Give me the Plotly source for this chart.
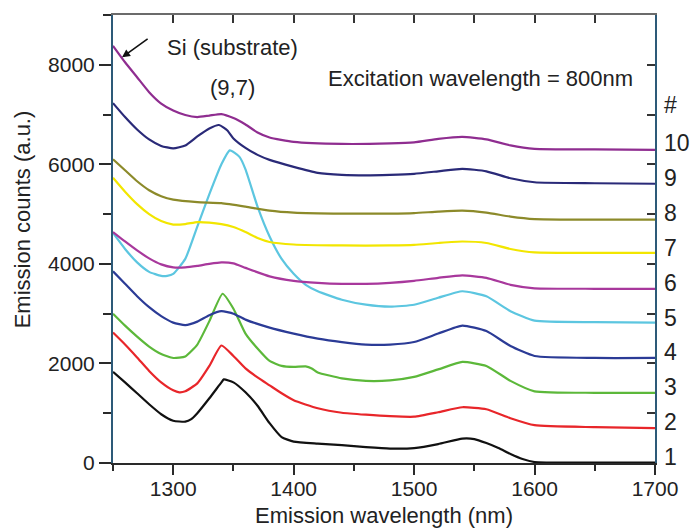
import plotly.graph_objects as go

# Photoluminescence spectra of samples #1-#10, vertically offset by 700 counts each
wl_1 = [1250, 1260, 1270, 1280, 1290, 1300, 1310, 1315, 1320, 1330, 1340, 1342, 1350, 1360, 1370, 1380, 1390, 1400, 1420, 1440, 1460, 1480, 1500, 1520, 1540, 1550, 1560, 1570, 1580, 1590, 1600, 1650, 1700]
counts_1 = [1830, 1620, 1400, 1180, 980, 850, 830, 880, 1000, 1300, 1620, 1680, 1620, 1420, 1150, 800, 520, 430, 390, 360, 320, 290, 300, 380, 490, 480, 400, 300, 180, 80, 20, 10, 10]

wl_2 = [1250, 1260, 1270, 1280, 1290, 1300, 1305, 1310, 1320, 1330, 1340, 1350, 1360, 1370, 1380, 1390, 1400, 1420, 1440, 1460, 1480, 1500, 1520, 1540, 1560, 1580, 1600, 1650, 1700]
counts_2 = [2620, 2380, 2120, 1850, 1620, 1460, 1420, 1440, 1600, 1950, 2360, 2150, 1900, 1720, 1560, 1400, 1260, 1100, 1010, 970, 940, 930, 1020, 1120, 1080, 900, 760, 720, 700]

wl_3 = [1250, 1260, 1270, 1280, 1290, 1300, 1310, 1320, 1330, 1341, 1350, 1360, 1370, 1380, 1390, 1400, 1410, 1415, 1420, 1440, 1460, 1480, 1500, 1520, 1540, 1560, 1580, 1600, 1650, 1700]
counts_3 = [3000, 2760, 2540, 2340, 2190, 2110, 2140, 2380, 2850, 3400, 3100, 2600, 2300, 2050, 1950, 1930, 1940, 1900, 1820, 1700, 1650, 1660, 1730, 1880, 2030, 1950, 1650, 1440, 1410, 1410]

wl_4 = [1250, 1260, 1270, 1280, 1290, 1300, 1310, 1320, 1330, 1340, 1350, 1360, 1380, 1400, 1420, 1440, 1460, 1480, 1500, 1520, 1540, 1560, 1580, 1600, 1650, 1700]
counts_4 = [3850, 3600, 3350, 3130, 2950, 2820, 2770, 2840, 2970, 3050, 3000, 2880, 2720, 2600, 2500, 2430, 2380, 2380, 2430, 2600, 2760, 2650, 2350, 2150, 2110, 2110]

wl_5 = [1250, 1260, 1270, 1280, 1290, 1295, 1300, 1310, 1320, 1330, 1340, 1347, 1355, 1360, 1370, 1380, 1390, 1400, 1410, 1420, 1440, 1460, 1480, 1500, 1520, 1540, 1560, 1580, 1600, 1650, 1700]
counts_5 = [4620, 4300, 4030, 3840, 3760, 3760, 3800, 4100, 4750, 5400, 6000, 6280, 6150, 5900, 5150, 4550, 4100, 3800, 3580, 3450, 3280, 3180, 3140, 3180, 3320, 3450, 3350, 3050, 2860, 2830, 2820]

wl_6 = [1250, 1260, 1270, 1280, 1290, 1300, 1310, 1320, 1330, 1340, 1350, 1360, 1380, 1400, 1420, 1440, 1460, 1480, 1500, 1520, 1540, 1560, 1580, 1600, 1650, 1700]
counts_6 = [4640, 4450, 4270, 4110, 3990, 3930, 3930, 3960, 4000, 4030, 4010, 3920, 3750, 3660, 3620, 3600, 3600, 3620, 3660, 3720, 3770, 3720, 3580, 3510, 3500, 3500]

wl_7 = [1250, 1260, 1270, 1280, 1290, 1300, 1310, 1320, 1330, 1340, 1350, 1360, 1370, 1380, 1400, 1440, 1480, 1500, 1520, 1540, 1560, 1580, 1600, 1650, 1700]
counts_7 = [5730, 5450, 5200, 5000, 4860, 4790, 4800, 4840, 4830, 4800, 4740, 4640, 4520, 4440, 4390, 4370, 4370, 4380, 4420, 4450, 4420, 4300, 4230, 4220, 4220]

wl_8 = [1250, 1260, 1270, 1280, 1290, 1300, 1320, 1340, 1360, 1380, 1400, 1440, 1480, 1500, 1520, 1540, 1560, 1580, 1600, 1700]
counts_8 = [6100, 5880, 5660, 5480, 5360, 5290, 5240, 5220, 5150, 5070, 5030, 5010, 5010, 5020, 5050, 5070, 5030, 4950, 4900, 4890]

wl_9 = [1250, 1260, 1270, 1280, 1290, 1300, 1310, 1320, 1330, 1338, 1345, 1350, 1360, 1370, 1380, 1400, 1420, 1440, 1460, 1480, 1500, 1520, 1540, 1560, 1580, 1600, 1650, 1700]
counts_9 = [7230, 6950, 6700, 6500, 6370, 6320, 6380, 6560, 6720, 6790, 6680, 6520, 6330, 6190, 6090, 5950, 5830, 5790, 5780, 5790, 5810, 5860, 5910, 5860, 5720, 5640, 5620, 5610]

wl_10 = [1250, 1260, 1270, 1280, 1290, 1300, 1310, 1320, 1330, 1340, 1350, 1360, 1370, 1380, 1400, 1440, 1480, 1500, 1520, 1540, 1560, 1580, 1600, 1650, 1700]
counts_10 = [8380, 8050, 7750, 7450, 7220, 7080, 6990, 6950, 6980, 7010, 6930, 6800, 6640, 6540, 6450, 6410, 6420, 6440, 6510, 6550, 6500, 6380, 6310, 6300, 6290]

sample_labels = ["1", "2", "3", "4", "5", "6", "7", "8", "9", "10"]
sample_offsets = [0, 700, 1400, 2100, 2800, 3500, 4200, 4900, 5600, 6300]
line_colors = ["#111111", "#e8262a", "#5cb83a", "#2b3b96", "#5cc6e0",
               "#a8389c", "#f2e600", "#8c8a2a", "#2a2a78", "#8f2d90"]

spectra = [(wl_1, counts_1), (wl_2, counts_2), (wl_3, counts_3), (wl_4, counts_4),
           (wl_5, counts_5), (wl_6, counts_6), (wl_7, counts_7), (wl_8, counts_8),
           (wl_9, counts_9), (wl_10, counts_10)]

FONT = "Liberation Sans, Arial, sans-serif"
AXIS_BLUE = "#2d5a78"
TEXT = "#222222"

fig = go.Figure()
for (wl, counts), color, name in zip(spectra, line_colors, sample_labels):
    fig.add_trace(go.Scatter(
        x=wl, y=counts, mode="lines", name="#" + name,
        line=dict(color=color, width=2.2, shape="spline", smoothing=0.5),
        showlegend=False,
    ))

# invisible trace so the mirrored top/right axes are drawn
fig.add_trace(go.Scatter(x=[1250], y=[0], xaxis="x2", yaxis="y2",
                         mode="markers", marker=dict(opacity=0), showlegend=False,
                         hoverinfo="skip"))

fig.update_layout(
    width=700, height=529,
    margin=dict(l=112.5, r=45, t=15, b=66.4),
    paper_bgcolor="white", plot_bgcolor="white",
    font=dict(family=FONT, size=21, color=TEXT),
    xaxis=dict(
        range=[1250, 1700], dtick=100, tick0=1300,
        showgrid=False, zeroline=False,
        showline=True, linecolor="#2a2a2a", linewidth=1.5,
        ticks="outside", ticklen=10, tickwidth=1.5, tickcolor="#2a2a2a",
        minor=dict(dtick=50, tick0=1250, ticks="outside", ticklen=6, tickwidth=1.5, tickcolor="#2a2a2a"),
        tickfont=dict(size=21, family=FONT, color=TEXT),
        ticklabelstandoff=-4,
    ),
    yaxis=dict(
        range=[0, 9000], dtick=2000, tick0=0,
        showgrid=False, zeroline=False,
        showline=True, linecolor=AXIS_BLUE, linewidth=2,
        ticks="outside", ticklen=12, tickwidth=1.5, tickcolor="#2a2a2a",
        minor=dict(dtick=1000, ticks="outside", ticklen=8, tickwidth=1.5, tickcolor="#2a2a2a"),
        tickfont=dict(size=21, family=FONT, color=TEXT),
    ),
    xaxis2=dict(
        range=[1250, 1700], overlaying="x", side="top", matches="x",
        showgrid=False, zeroline=False, showticklabels=False,
        showline=True, linecolor="#6b6b6b", linewidth=2,
        ticks="inside", ticklen=8, tickwidth=1.5, tickcolor="#333333",
        dtick=50, tick0=1250,
    ),
    yaxis2=dict(
        range=[0, 9000], overlaying="y", side="right", matches="y",
        showgrid=False, zeroline=False, showticklabels=False,
        showline=True, linecolor=AXIS_BLUE, linewidth=2,
        ticks="inside", ticklen=8, tickwidth=1.5, tickcolor="#333333",
        dtick=1000, tick0=0,
    ),
)

annotations = []
# axis titles
annotations.append(dict(text="Emission wavelength (nm)", xref="paper", yref="paper",
                        x=0.5, y=-0.118, xanchor="center", yanchor="middle",
                        showarrow=False, font=dict(size=22, family=FONT, color=TEXT)))
annotations.append(dict(text="Emission counts (a.u.)", xref="paper", yref="paper",
                        x=-0.167, y=0.545, xanchor="center", yanchor="middle", textangle=-90,
                        showarrow=False, font=dict(size=22, family=FONT, color=TEXT)))
# in-plot notes
annotations.append(dict(text="Si (substrate)", x=1293, y=8340, xref="x", yref="y",
                        xanchor="left", yanchor="middle", showarrow=False,
                        font=dict(size=22, family=FONT, color=TEXT)))
annotations.append(dict(text="", x=1257.5, y=8150, ax=1280, ay=8540, xref="x", yref="y",
                        axref="x", ayref="y", showarrow=True, arrowhead=2, arrowsize=1,
                        arrowwidth=1.6, arrowcolor="#111111"))
annotations.append(dict(text="(9,7)", x=1349, y=7540, xref="x", yref="y",
                        xanchor="center", yanchor="middle", showarrow=False,
                        font=dict(size=22, family=FONT, color=TEXT)))
annotations.append(dict(text="Excitation wavelength = 800nm", x=1555, y=7720, xref="x", yref="y",
                        xanchor="center", yanchor="middle", showarrow=False,
                        font=dict(size=22, family=FONT, color=TEXT)))
# sample numbers to the right of each spectrum
annotations.append(dict(text="#", x=1.012, y=7190, xref="paper", yref="y",
                        xanchor="left", yanchor="middle", showarrow=False,
                        font=dict(size=23, family=FONT, color=TEXT)))
for name, off in zip(sample_labels, sample_offsets):
    annotations.append(dict(text=name, x=1.012, y=off + 120, xref="paper", yref="y",
                            xanchor="left", yanchor="middle", showarrow=False,
                            font=dict(size=23, family=FONT, color=TEXT)))

fig.update_layout(annotations=annotations)

fig.write_html("out.html")
